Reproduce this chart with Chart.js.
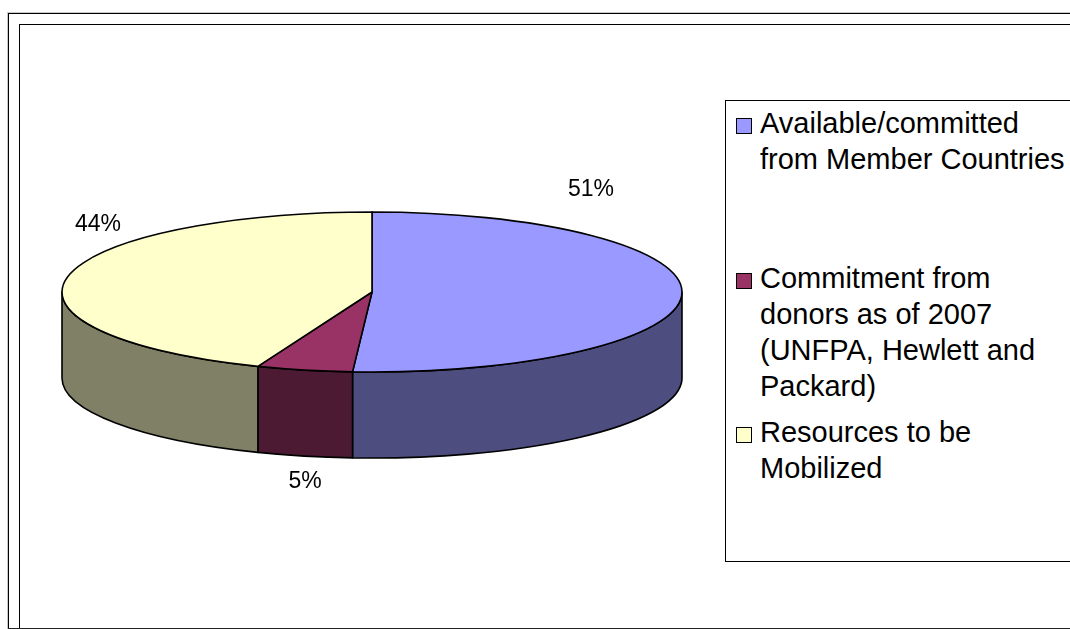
<!DOCTYPE html>
<html>
<head>
<meta charset="utf-8">
<script src="https://cdn.jsdelivr.net/npm/chart.js@4.4.0/dist/chart.umd.min.js"></script>
<style>
html,body{margin:0;padding:0;background:#fff;width:1070px;height:629px;overflow:hidden;font-family:"Liberation Sans",Arial,sans-serif;}
#wrap{position:absolute;left:0;top:0;width:1070px;height:629px;overflow:hidden;}
#chart{position:absolute;left:0;top:0;}
.frame-outer{position:absolute;left:8px;top:13px;width:1100px;height:700px;border-left:1px solid #000;border-top:1px solid #000;box-shadow:-1px -1px 0 #c8c8c8;}
.frame-inner{position:absolute;left:19px;top:24px;width:1100px;height:700px;border-left:1px solid #000;border-top:1px solid #000;}
.bottom-line{position:absolute;left:8px;top:628px;width:1062px;height:1px;background:#222;}
#legend{position:absolute;left:725px;top:100px;width:400px;height:460px;border:1px solid #000;background:#fff;}
.item{position:absolute;left:34px;width:312px;font-size:29px;line-height:36px;color:#000;white-space:normal;}
.swatch{position:absolute;left:10px;width:14px;height:14px;border:1px solid #000;}
</style>
</head>
<body>
<div id="wrap">
  <div class="frame-outer"></div>
  <div class="frame-inner"></div>
  <div class="bottom-line"></div>
  <canvas id="chart" width="1070" height="629"></canvas>
  <div id="legend"></div>
</div>
<script>
// ---- data ----
const categories = [
  'Available/committed from Member Countries',
  'Commitment from donors as of 2007 (UNFPA, Hewlett and Packard)',
  'Resources to be Mobilized'
];
const shares = [51, 5, 44];
const topColors = ['#9999FF', '#993366', '#FFFFCC'];
const sideColors = ['#4D4D80', '#4D1A33', '#808066'];

// ---- style ----
const legendItemTops = [4, 159, 313];
const labelOffsets = [[219, -102], [-67, 190], [-274, -67]];

function frontSegments(s, e) {
  const out = [];
  for (let k = -2; k <= 2; k++) {
    const a = 2 * Math.PI * k, b = a + Math.PI;
    const ss = Math.max(s, a), ee = Math.min(e, b);
    if (ee > ss + 1e-6) out.push([ss, ee]);
  }
  return out;
}

const pie3d = {
  id: 'pie3d',
  beforeDatasetsDraw(chart, args, opts) {
    const meta = chart.getDatasetMeta(0);
    const arcs = meta.data;
    const ctx = chart.ctx;
    const cx = arcs[0].x, cy = arcs[0].y;
    const rx = arcs[0].outerRadius, ry = rx * opts.tilt, h = rx * opts.depth;
    ctx.save();
    ctx.lineWidth = opts.lineWidth;
    ctx.strokeStyle = '#000';
    ctx.lineJoin = 'round';
    // side walls
    arcs.forEach((arc, i) => {
      frontSegments(arc.startAngle, arc.endAngle).forEach(([s, e]) => {
        ctx.beginPath();
        ctx.ellipse(cx, cy, rx, ry, 0, s, e);
        ctx.lineTo(cx + rx * Math.cos(e), cy + ry * Math.sin(e) + h);
        ctx.ellipse(cx, cy + h, rx, ry, 0, e, s, true);
        ctx.closePath();
        ctx.fillStyle = opts.sideColors[i];
        ctx.fill();
        ctx.stroke();
      });
    });
    // top faces
    arcs.forEach((arc) => {
      ctx.beginPath();
      ctx.moveTo(cx, cy);
      ctx.ellipse(cx, cy, rx, ry, 0, arc.startAngle, arc.endAngle);
      ctx.closePath();
      ctx.fillStyle = arc.options.backgroundColor;
      ctx.fill();
      ctx.stroke();
    });
    // percentage labels
    const data = chart.data.datasets[0].data;
    const total = data.reduce((a, b) => a + b, 0);
    ctx.fillStyle = '#000';
    ctx.font = '23px "Liberation Sans", Arial, sans-serif';
    ctx.textAlign = 'center';
    ctx.textBaseline = 'middle';
    data.forEach((v, i) => {
      const off = opts.labelOffsets[i];
      ctx.fillText(Math.round(v / total * 100) + '%', cx + off[0], cy + off[1]);
    });
    ctx.restore();
    return false;
  }
};

new Chart(document.getElementById('chart'), {
  type: 'pie',
  data: {
    labels: categories,
    datasets: [{
      data: shares,
      backgroundColor: topColors,
      borderColor: '#000',
      borderWidth: 1.5,
      radius: 310
    }]
  },
  options: {
    responsive: false,
    animation: false,
    layout: { padding: { left: 62, right: 388, top: 0, bottom: 45 } },
    plugins: {
      legend: { display: false },
      tooltip: { enabled: false },
      pie3d: { tilt: 80 / 310, depth: 86 / 310, lineWidth: 1.6, sideColors: sideColors, labelOffsets: labelOffsets }
    }
  },
  plugins: [pie3d]
});

// legend (HTML text)
const legend = document.getElementById('legend');
categories.forEach((c, i) => {
  const sw = document.createElement('div');
  sw.className = 'swatch';
  sw.style.top = (legendItemTops[i] + 13) + 'px';
  sw.style.background = topColors[i];
  legend.appendChild(sw);
  const it = document.createElement('div');
  it.className = 'item';
  it.style.top = legendItemTops[i] + 'px';
  it.textContent = c;
  legend.appendChild(it);
});
</script>
</body>
</html>
